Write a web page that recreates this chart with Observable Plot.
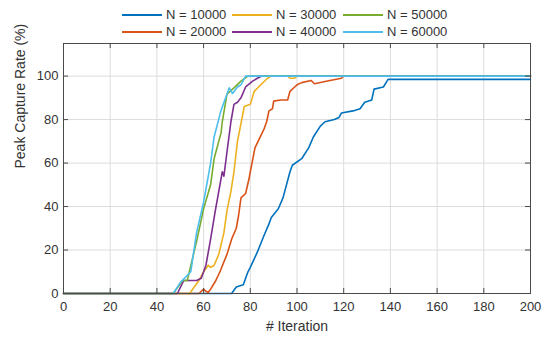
<!DOCTYPE html>
<html><head><meta charset="utf-8">
<script src="https://cdn.jsdelivr.net/npm/d3@7"></script>
<script src="https://cdn.jsdelivr.net/npm/@observablehq/plot@0.6"></script>
<style>
body{margin:0;background:#fff;font-family:"Liberation Sans",Arial,sans-serif;}
#wrap{position:relative;width:545px;height:344px;overflow:hidden;}
#legend{position:absolute;left:0;top:0;width:545px;height:43px;}
.item{position:absolute;display:flex;align-items:center;font-size:13px;color:#333;line-height:16px;height:16px;}
.item .sw{display:block;width:40px;height:2px;margin-right:4px;}
</style></head><body>
<div id="wrap"><div id="chart"></div><div id="legend"></div></div>
<script>
const seriesLabels = ["N = 10000","N = 20000","N = 30000","N = 40000","N = 50000","N = 60000"];
const seriesColors = ["#0072BD","#D95319","#EDB120","#7E2F8E","#77AC30","#4DBEEE"];
const xTicks = [0,20,40,60,80,100,120,140,160,180,200];
const yTicks = [0,20,40,60,80,100];

const iter10000 = [0,72,74,77,79,80,83,86,88,89,92,94,97,98,102,105,107,110,112,116,118,119,124,127,129,132,133,137,139,200];
const rate10000 = [0,0,3,4,10,12,19,27,32,35,39,44,56,59,62,67,72,77,79,80,81,83,84,85,88,89,94,95,98.5,98.5];

const iter20000 = [0,58,60,61,62,63,65,67,70,72,74,75,76,78,79.5,80,82,86,87,88,89.5,90,93,96,97,99,100,102,106,107.5,112,119,120,200];
const rate20000 = [0,0,2,1,0.5,2,5.5,10,18,25,30,36,44,46,53,56,67,76,79,84,85,88.5,89,89,93,95,96,97,98,96.5,97.5,99,100,100];

const iter30000 = [0,54,56,58,60,62,63,64.5,66.5,68.7,70,71.7,73,74.5,76.7,77.4,80,81.7,84.5,87.4,89,96,97,99,100,200];
const rate30000 = [0,0,3,6,10,13,12,13,18,28,38,47,56,70,82,86,87,93,96,99,100,100,99,99,100,100];

const iter40000 = [0,48.8,51.5,57,59,61,63,65,66,68,68.7,70,71.7,73,74.5,76,78,81,83,85,200];
const rate40000 = [0,0,6,6,7,13,25,38,44,56,54,65,79,87,88,90,95,97.7,99,100,100];

const iter50000 = [0,47,49,51,53,57,60,63,64.5,65.5,67.5,68,70,73,76,79,200];
const rate50000 = [0,0,3,6,6,24,39,50,62,66,74,79,91.7,94.6,97.7,100,100];

const iter60000 = [0,47,50,54.5,57,60,63,64.5,67.4,70,71,72.4,74.5,76,78,200];
const rate60000 = [0,0,5,10,28,42,60,72,84,91.7,94.6,92,95,96,100,100];

const iters = [iter10000,iter20000,iter30000,iter40000,iter50000,iter60000];
const rates = [rate10000,rate20000,rate30000,rate40000,rate50000,rate60000];
const data = [];
seriesLabels.forEach((s,i)=>iters[i].forEach((x,j)=>data.push({series:s,it:x,rate:rates[i][j]})));

const xLabel = "# Iteration";
const yLabel = "Peak Capture Rate (%)";

const chart = Plot.plot({
  width:545, height:344,
  marginTop:43, marginLeft:63, marginRight:15, marginBottom:51,
  style:{fontFamily:"'Liberation Sans', Arial, sans-serif", fontSize:"13px", color:"#333", background:"white"},
  x:{domain:[0,200]},
  y:{domain:[0,115]},
  color:{domain:seriesLabels, range:seriesColors},
  marks:[
    Plot.gridX(xTicks,{stroke:"#dcdcdc", strokeOpacity:1}),
    Plot.gridY(yTicks,{stroke:"#dcdcdc", strokeOpacity:1}),
    Plot.line(data,{x:"it", y:"rate", z:"series", stroke:"series", strokeWidth:1.6}),
    Plot.frame({stroke:"#4a4a4a"}),
    Plot.tickX(xTicks,{x:d=>d, insetTop:245, stroke:"#4a4a4a"}),
    Plot.tickX(xTicks,{x:d=>d, insetBottom:245, stroke:"#4a4a4a"}),
    Plot.tickY(yTicks,{y:d=>d, insetRight:462, stroke:"#4a4a4a"}),
    Plot.tickY(yTicks,{y:d=>d, insetLeft:462, stroke:"#4a4a4a"}),
    Plot.axisX(xTicks,{tickSize:0, tickPadding:8, label:null, fontSize:13}),
    Plot.axisY(yTicks,{tickSize:0, tickPadding:5, label:null, fontSize:13}),
    Plot.text([xLabel],{text:d=>d, frameAnchor:"bottom", dy:37, fontSize:14, fill:"#333"}),
    Plot.text([yLabel],{text:d=>d, frameAnchor:"left", rotate:-90, dx:-43, fontSize:14, fill:"#333"})
  ]
});
document.getElementById("chart").appendChild(chart);

// legend (column-major, 2 rows x 3 columns)
const legend = document.getElementById("legend");
const colLeft = [122,232,343];
const rowTop = [7,24];
seriesLabels.forEach((s,i)=>{
  const col = Math.floor(i/2), row = i%2;
  const el = document.createElement("div");
  el.className = "item";
  el.style.left = colLeft[col]+"px";
  el.style.top = rowTop[row]+"px";
  const sw = document.createElement("span");
  sw.className = "sw";
  sw.style.background = seriesColors[i];
  el.appendChild(sw);
  el.appendChild(document.createTextNode(s));
  legend.appendChild(el);
});
</script>
</body></html>
